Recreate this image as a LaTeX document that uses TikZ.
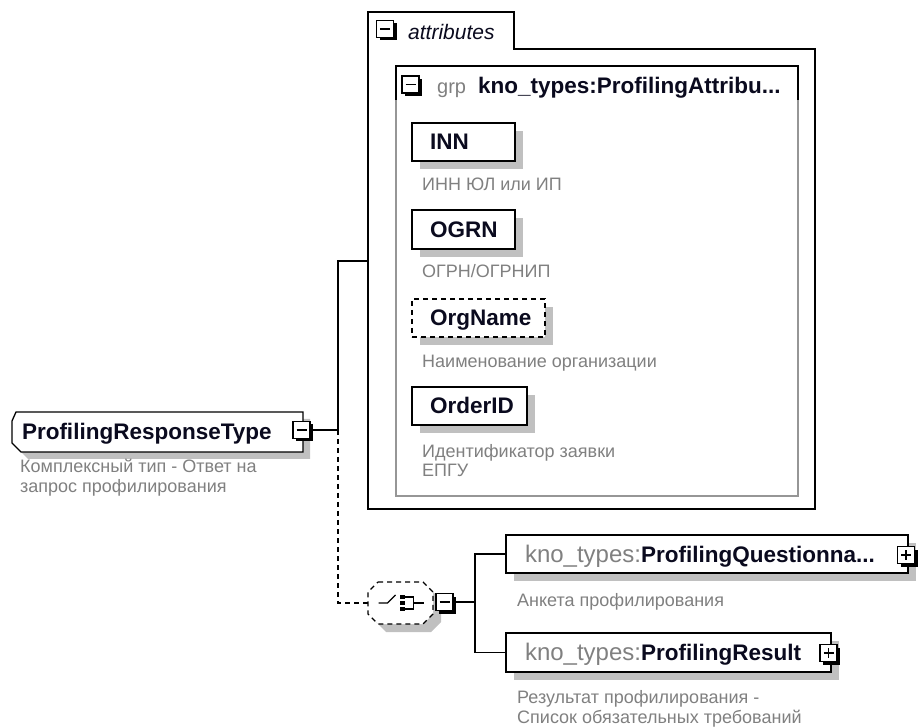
\documentclass[tikz,border=0pt]{standalone}
\usepackage{fontspec}
\setmainfont{Liberation Sans}
\usetikzlibrary{calc,shadows}
\pgfdeclarelayer{bg}
\pgfdeclarelayer{canvas}
\pgfsetlayers{canvas,bg,main}
\definecolor{descgray}{RGB}{128,128,128}
\definecolor{shadowgray}{RGB}{192,192,192}
\definecolor{grpgray}{RGB}{150,150,150}
\definecolor{namecol}{RGB}{10,10,30}
\newcommand\mynm{\fontsize{22.5}{26}\selectfont\bfseries}
\newcommand\myds{\fontsize{18}{21}\selectfont}
\newcommand\myks{\fontsize{24}{28}\selectfont\mdseries\color{descgray}}
\newcommand\mygrp{\fontsize{20}{24}\selectfont}
\newcommand\myat{\fontsize{21}{25}\selectfont\itshape}
\tikzset{
  conn/.style={line width=1.3pt},
  dconn/.style={line width=1.3pt, dash pattern=on 5pt off 4pt},
  elembox/.style={draw, fill=white, line width=1.3pt, inner xsep=18pt, inner ysep=0pt,
    text height=16pt, text depth=0pt, align=left, font=\mynm, text=namecol,
    drop shadow={shadow xshift=8pt, shadow yshift=-8pt, fill=shadowgray, opacity=1}},
  pmbox/.style={draw, fill=white, line width=1.3pt, minimum size=17pt, inner sep=0pt, outer sep=0pt,
    drop shadow={shadow xshift=3pt, shadow yshift=-3pt, fill=black, opacity=1}},
  minusbox/.style={pmbox, path picture={\draw[line width=1.4pt]
      ($(path picture bounding box.west)+(3.5pt,0pt)$) -- ($(path picture bounding box.east)+(-3.5pt,0pt)$);}},
  plusbox/.style={pmbox, path picture={\draw[line width=1.4pt]
      ($(path picture bounding box.west)+(3.5pt,0pt)$) -- ($(path picture bounding box.east)+(-3.5pt,0pt)$)
      ($(path picture bounding box.north)+(0pt,-3.5pt)$) -- ($(path picture bounding box.south)+(0pt,3.5pt)$);}},
  desc/.style={anchor=base west, inner sep=0pt, text=descgray, font=\myds},
  region/.style={inner sep=0pt, outer sep=0pt},
  iconline/.style={line width=1.3pt}
}
\begin{document}
\begin{tikzpicture}[x=1pt,y=-1pt]
\begin{pgfonlayer}{canvas}
\fill[white] (0,0) rectangle (922,727);
\end{pgfonlayer}
\useasboundingbox (0,0) rectangle (922,727);

% ---------- attributes container ----------
\node[region, minimum width=146pt, minimum height=37pt] (tab) at (441,30.5) {};
\node[region, minimum width=447pt, minimum height=460pt] (attr) at (591.5,279) {};
\draw[conn] (attr.south west) -- (tab.north west) -- (tab.north east) -- (tab.south east)
  -- (attr.north east) -- (attr.south east) -- cycle;
\node[minusbox] (tabpm) at (385,29) {};
\node[anchor=base west, inner sep=0pt, font=\myat, text=namecol] (tablbl) at (408,39.5) {attributes};

% ---------- group ----------
\node[region, draw=grpgray, line width=1.3pt, minimum width=402pt, minimum height=430pt] (grp) at (597,281) {};
\draw[conn] ($(grp.north west)+(0,34)$) -- (grp.north west) -- (grp.north east) -- ($(grp.north east)+(0,34)$);
\node[minusbox] (grppm) at (410.5,84.5) {};
\node[anchor=base west, inner sep=0pt, font=\mygrp, text=descgray] (grplbl) at (437,93.5) {grp};
\node[anchor=base west, inner sep=0pt, font=\mynm, text=namecol] (grpname) at (478,93.5) {kno\_types:ProfilingAttribu...};

% ---------- attribute elements ----------
\node[elembox, text width=67pt, minimum height=38pt] (inn) at (463.5,142) {INN};
\node[desc] (innd) at (422,191) {ИНН ЮЛ или ИП};
\node[elembox, text width=67pt, minimum height=39pt] (ogrn) at (463.5,229.5) {OGRN};
\node[desc] (ogrnd) at (422,278) {ОГРН/ОГРНИП};
\node[elembox, dash pattern=on 5pt off 4pt, text width=97pt, minimum height=38pt] (orgname) at (478.5,318) {OrgName};
\node[desc] (orgnamed) at (422,368) {Наименование организации};
\node[elembox, text width=79pt, minimum height=38pt] (orderid) at (469.5,406) {OrderID};
\node[desc] (orderidd1) at (422,457) {Идентификатор заявки};
\node[desc] (orderidd2) at (422,477) {ЕПГУ};

% ---------- ProfilingResponseType ----------
\node[region, inner xsep=10pt, text height=16pt, text depth=0pt, text width=271pt, minimum height=40pt,
  align=left, font=\mynm, text=namecol] (prt) at (157.5,432) {ProfilingResponseType};
\begin{pgfonlayer}{bg}
\fill[shadowgray] ($(prt.north west)+(12,7)$) -- ($(prt.north east)+(7,7)$) -- ($(prt.south east)+(7,7)$)
  -- ($(prt.south west)+(16,7)$) -- ($(prt.south west)+(7,-2)$) -- ($(prt.north west)+(7,16)$) -- cycle;
\draw[conn, fill=white] ($(prt.north west)+(4,0)$) -- (prt.north east) -- (prt.south east)
  -- ($(prt.south west)+(9,0)$) -- ($(prt.south west)+(0,-9)$) -- ($(prt.north west)+(0,9)$) -- cycle;
\end{pgfonlayer}
\node[minusbox] (prtpm) at (301.5,430) {};
\node[desc] (prtd1) at (20,472) {Комплексный тип - Ответ на};
\node[desc] (prtd2) at (20,493) {запрос профилирования};

% ---------- choice ----------
\node[region, minimum width=65pt, minimum height=42pt] (ch) at (400.5,603) {};
\begin{pgfonlayer}{bg}
\fill[shadowgray] ($(ch.north west)+(18,8)$) -- ($(ch.north east)+(-2,8)$) -- ($(ch.north east)+(8,18)$)
  -- ($(ch.south east)+(8,-2)$) -- ($(ch.south east)+(-2,8)$) -- ($(ch.south west)+(18,8)$)
  -- ($(ch.south west)+(8,-2)$) -- ($(ch.north west)+(8,18)$) -- cycle;
\draw[dconn, fill=white] ($(ch.north west)+(10,0)$) -- ($(ch.north east)+(-10,0)$) -- ($(ch.north east)+(0,10)$)
  -- ($(ch.south east)+(0,-10)$) -- ($(ch.south east)+(-10,0)$) -- ($(ch.south west)+(10,0)$)
  -- ($(ch.south west)+(0,-10)$) -- ($(ch.north west)+(0,10)$) -- cycle;
\end{pgfonlayer}
% choice icon
\draw[iconline] ($(ch.center)+(-22,0)$) -- ($(ch.center)+(-13,0)$) -- ($(ch.center)+(-5,-8)$);
\fill ($(ch.center)+(-0.5,-8)$) rectangle ($(ch.center)+(4,-4)$);
\fill ($(ch.center)+(-0.5,-2)$) rectangle ($(ch.center)+(4,2)$);
\fill ($(ch.center)+(-0.5,4)$) rectangle ($(ch.center)+(4,8)$);
\draw[iconline] ($(ch.center)+(4,-6)$) -- ($(ch.center)+(13,-6)$) -- ($(ch.center)+(13,6)$) -- ($(ch.center)+(4,6)$);
\draw[iconline] ($(ch.center)+(13,0)$) -- ($(ch.center)+(23,0)$);
\node[minusbox] (chpm) at (444.5,602) {};

% ---------- children ----------
\node[elembox, inner xsep=19pt, text width=364pt, minimum height=38pt] (pq) at (707,554)
  {\mbox{{\myks kno\_types:}ProfilingQuestionna...}};
\node[plusbox] (pqpm) at (906,555) {};
\node[desc] (pqd) at (517,606) {Анкета профилирования};
\node[elembox, inner xsep=19pt, text width=287pt, minimum height=39pt] (pr) at (668.5,652.5)
  {\mbox{{\myks kno\_types:}ProfilingResult}};
\node[plusbox] (prpm) at (828.5,653) {};
\node[desc] (prd1) at (517,703) {Результат профилирования -};
\node[desc] (prd2) at (517,723) {Список обязательных требований};

% ---------- connectors ----------
\coordinate (j1) at (338,430);
\coordinate (j3) at (475,602);
\draw[conn] (prtpm.east) -- (j1) |- ($(attr.north west)+(0,212)$);
\draw[dconn] (j1) |- (ch.west);
\draw[conn] (chpm.east) -- (j3);
\draw[conn] (pq.west) -| (j3) |- (pr.west);
\end{tikzpicture}
\end{document}
